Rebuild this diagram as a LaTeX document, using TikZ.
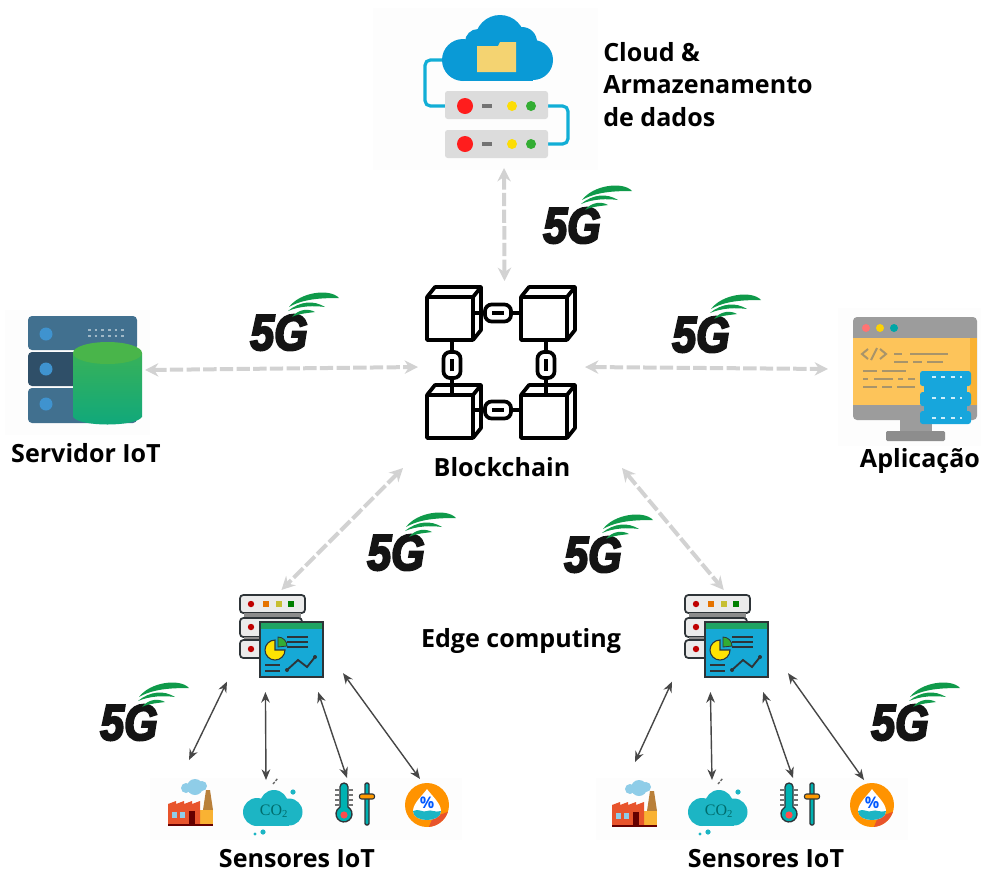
\documentclass[tikz,border=0pt]{standalone}
\usepackage{fontspec}
\setmainfont{Open Sans}
\newfontfamily\fivegfont{Liberation Sans}[BoldItalicFeatures={FakeBold=4,FakeStretch=0.85}]
\newfontfamily\gasfont{Liberation Serif}
\usetikzlibrary{arrows.meta}
\definecolor{inkdark}{HTML}{2E3438}
\definecolor{netgray}{HTML}{D2D2D2}
\definecolor{wirepale}{HTML}{12AED6}
\definecolor{skyblue}{HTML}{0A9AD6}
\definecolor{leaf}{HTML}{0F9A4A}
\definecolor{tealgas}{HTML}{1CB5C4}
\definecolor{rowgray}{HTML}{DCDCDC}
\definecolor{deskyellow}{HTML}{FDC45A}
\definecolor{deskgray}{HTML}{9C9C9C}
\definecolor{codeline}{HTML}{A8946A}
\definecolor{paneblue}{HTML}{16A9D6}
\definecolor{panegreen}{HTML}{1FA463}
\definecolor{rackblue}{HTML}{17A6DC}
\definecolor{brick}{HTML}{E8542C}
\definecolor{tower}{HTML}{F9B233}
\definecolor{chimney}{HTML}{B9803A}
\definecolor{smoke}{HTML}{8FCDE8}
\definecolor{srvrow}{HTML}{41708F}
\definecolor{srvmid}{HTML}{2F4F68}
\definecolor{srvdot}{HTML}{3F93CF}
\definecolor{drumtop}{HTML}{49B54A}
\definecolor{drumlow}{HTML}{0FA87C}
\tikzset{netlink/.style = {draw = netgray, line width = 3pt, dash pattern = on 10pt off 2.5pt,
                           {Stealth[length = 10pt, width = 10pt, fill = netgray!80]}-{Stealth[length = 10pt, width = 10pt, fill = netgray!80]}}}
\tikzset{senslink/.style = {draw = black!72, line width = 1.05pt,
                            {Stealth[length = 8pt, width = 6.5pt]}-{Stealth[length = 8pt, width = 6.5pt]}}}
\tikzset{lbl/.style = {font = \bfseries\fontsize{18.8}{24.4}\selectfont, inner sep = 0, text = black}}
\tikzset{slot/.style = {inner sep = 0, outer sep = 0, minimum width = #1}}
\tikzset{faint/.style = {fill = black!0.6, draw = none}}
\tikzset{fivegee/.pic = {
    \node (-txt) [anchor = base west, inner sep = 0, font = \fivegfont\bfseries\itshape\fontsize{38}{38}\selectfont, text = black!92] at (0, 0) {5G};
    \fill [leaf] (39, -43) .. controls (50, -58) and (80, -62) .. (89, -52) .. controls (70, -52) and (53, -51) .. (39, -43);
    \fill [leaf] (38, -39) .. controls (50, -49) and (64, -50) .. (75, -43) .. controls (64, -44.5) and (50, -44.2) .. (38, -39);
    \fill [leaf] (42, -33) .. controls (49, -41.5) and (59, -41.5) .. (65, -38) .. controls (59, -37) and (49, -36.7) .. (42, -33);
}}
\tikzset{cubeblock/.pic = {
    \draw [line width = 2.8pt, line join = round, fill = white] (0, 0) rectangle (46, 43);
    \draw [line width = 2.8pt, line join = round] (0, 0) -- (8, -10) -- (54, -10) -- (46, 0);
    \draw [line width = 2.8pt, line join = round] (54, -10) -- (54, 33) -- (46, 43);
}}
\tikzset{chainlink/.pic = {
    \draw [line width = 2.8pt, rounded corners = 5pt, fill = white] (-13, -8.5) rectangle (13, 8.5);
    \draw [line width = 2.3pt] (-6, 0) -- (6, 0);
}}
\tikzset{edgeicon/.pic = {
    \draw [draw = inkdark, line width = 1.3pt, fill = black!8, rounded corners = 2.5pt] (0, 0) rectangle (65, 18);
    \fill [black!45] (4, 18) rectangle (61, 23);
    \draw [draw = inkdark, line width = 1.3pt, fill = black!8, rounded corners = 2.5pt] (0, 23) rectangle (62, 42);
    \fill [black!45] (4, 42) rectangle (20, 45);
    \draw [draw = inkdark, line width = 1.3pt, fill = black!8, rounded corners = 2.5pt] (0, 45) rectangle (40, 63);
    \fill [red!75!black] (11, 9) circle (3.2);
    \fill [orange!90!black] (23, 6) rectangle (29, 12);
    \fill [yellow!75!black] (36, 6) rectangle (42, 12);
    \fill [green!50!black] (48, 6) rectangle (54, 12);
    \fill [red!75!black] (11, 32) circle (3.2);
    \fill [red!75!black] (11, 54) circle (3.2);
    \draw [draw = inkdark, line width = 1.3pt, fill = paneblue] (20, 27) rectangle (83, 82);
    \fill [panegreen] (21, 28) rectangle (82, 34);
    \filldraw [draw = inkdark, line width = 0.8pt, fill = yellow!85!orange] (35, 55) -- (35, 45) arc [start angle = 270, end angle = 0, radius = 10] -- cycle;
    \filldraw [draw = inkdark, line width = 0.6pt, fill = green!60!black!80] (38, 52) -- (38, 42) arc [start angle = 270, end angle = 360, radius = 9] -- cycle;
    \draw [inkdark, line width = 1pt] (47, 42) -- (68, 42) (47, 47) -- (68, 47) (47, 52) -- (68, 52);
    \draw [inkdark, line width = 1pt] (25, 70) -- (40, 70) (25, 76) -- (40, 76);
    \draw [inkdark, line width = 1.4pt] (47, 75) -- (58, 65) -- (67, 72) -- (75, 62);
    \fill [inkdark] (47, 75) circle (2);
    \fill [inkdark] (75, 62) circle (2);
}}
\tikzset{factoryicon/.pic = {
    \fill [smoke] (27, 7) circle (8);
    \fill [smoke] (18, 8) circle (5);
    \fill [smoke] (34, 6) circle (5);
    \fill [chimney] (35, 30) -- (38, 10) -- (42, 10) -- (45, 30) -- cycle;
    \fill [tower] (32, 30) rectangle (45, 45);
    \fill [brick] (0, 45) -- (0, 24) -- (8, 21) -- (8, 24) -- (16, 21) -- (16, 24) -- (24, 21) -- (24, 24) -- (32, 21) -- (32, 45) -- cycle;
    \fill [smoke] (4, 32) rectangle (9, 38);
    \fill [smoke] (12, 32) rectangle (17, 38);
    \fill [black!60!red] (21, 31) rectangle (27, 45);
    \fill [black!60!red] (0, 44) rectangle (45, 46);
}}
\tikzset{gasicon/.pic = {
    \fill [tealgas] (14, 20) circle (14);
    \fill [tealgas] (31, 12) circle (14);
    \fill [tealgas] (46, 20) circle (13.5);
    \fill [tealgas] (14, 14) rectangle (46, 33.5);
    \fill [tealgas] (50, 0) circle (2.6);
    \fill [tealgas] (20, 40) circle (2.6);
    \fill [tealgas] (12, 42) circle (1.6);
    \node (-txt) [inner sep = 0, font = \gasfont\fontsize{12}{12}\selectfont, text = teal!85!black] at (31, 19) {CO\textsubscript{2}};
}}
\tikzset{thermoicon/.pic = {
    \draw [draw = black!55, line width = 1pt] (-9, 6) -- (-5, 6) (-9, 11) -- (-5, 11) (-9, 16) -- (-5, 16) (-9, 21) -- (-5, 21) (5, 6) -- (9, 6) (5, 11) -- (9, 11) (5, 16) -- (9, 16) (5, 21) -- (9, 21);
    \draw [draw = inkdark, line width = 1pt, fill = teal!60!cyan] (-4, 23) -- (-4, 3) arc (180:360:4) -- (4, 23) arc (-60:240:8) -- cycle;
    \fill [red!60!pink] (0, 31) circle (3.6);
    \draw [draw = inkdark, line width = 1pt, fill = teal!60!cyan, rounded corners = 1pt] (21, -1) rectangle (25, 41);
    \draw [draw = inkdark, line width = 0.8pt, fill = orange!80!yellow, rounded corners = 1.5pt] (15.5, 10) rectangle (30.5, 15);
}}
\tikzset{dropicon/.pic = {
    \fill [orange!85!yellow] (0, 0) circle (22);
    \fill [brick] (6, 12) -- (20.9, 6.9) arc [start angle = 18.4, end angle = 85, radius = 22] -- cycle;
    \fill [white] (0, -16) .. controls (4, -10) and (14, -2) .. (14, 6) .. controls (14, 18) and (-14, 18) .. (-14, 6) .. controls (-14, -2) and (-4, -10) .. (0, -16);
    \fill [tealgas] (-14, 6) .. controls (-8, 3) and (-4, 8) .. (0, 6) .. controls (4, 4) and (8, 8) .. (14, 6) .. controls (14, 18) and (-14, 18) .. (-14, 6);
    \node (-txt) [inner sep = 0, font = \bfseries\fontsize{12}{12}\selectfont, text = blue!65!cyan] at (0, -2) {\%};
}}
\begin{document}
\begin{tikzpicture}[x = 0.75pt, y = -0.75pt]
    \useasboundingbox (0, 0) rectangle (981, 872);

    % Cloud
    \fill [faint] (373, 8) rectangle (598, 170);
    \node (store) [slot = 142pt, minimum height = 120pt] at (504, 88) {};
    \draw [wirepale, line width = 2.4pt, rounded corners = 4pt] (445, 60) -- (425, 60) -- (425, 106) -- (448, 106);
    \draw [wirepale, line width = 2.4pt, rounded corners = 4pt] (545, 106) -- (568, 106) -- (568, 144) -- (545, 144);
    \fill [skyblue] (500, 40) circle (25);
    \fill [skyblue] (463, 60) circle (21);
    \fill [skyblue] (533, 60) circle (20);
    \fill [skyblue] (478, 42) circle (13);
    \fill [skyblue] (522, 42) circle (15);
    \fill [skyblue] (463, 55) rectangle (533, 81);
    \fill [orange!40!yellow!70!brown!60] (477, 46) -- (498, 46) -- (500, 42) -- (516, 42) -- (516, 72) -- (477, 72) -- cycle;
    \fill [rowgray, rounded corners = 2pt] (445, 91) rectangle (548, 119);
    \fill [rowgray, rounded corners = 2pt] (445, 130) rectangle (548, 158);
    \fill [red!85!pink] (465, 106) circle (8);
    \fill [red!85!pink] (465, 144) circle (8);
    \fill [black!55] (482, 104) rectangle (492, 108);
    \fill [black!55] (482, 142) rectangle (492, 146);
    \fill [yellow!80!orange] (512, 106) circle (5);
    \fill [yellow!80!orange] (512, 144) circle (5);
    \fill [green!60!black!80] (531, 106) circle (5);
    \fill [green!60!black!80] (531, 144) circle (5);
    \node (lblStore) [lbl, anchor = north west, align = left] at (603, 42) {Cloud \&\\Armazenamento\\de dados};

    % Blockchain
    \node (chain) [slot = 125.25pt, minimum height = 129pt] at (501.5, 367) {};
    \draw [line width = 2.8pt] (473, 313) -- (521, 313) (473, 410) -- (521, 410);
    \draw [line width = 2.8pt] (452, 340) -- (452, 395) (546, 340) -- (546, 395);
    \pic at (498, 313) {chainlink};
    \pic at (498, 410) {chainlink};
    \pic [rotate = 90] at (452, 365) {chainlink};
    \pic [rotate = 90] at (546, 365) {chainlink};
    \pic at (427, 297) {cubeblock};
    \pic at (521, 297) {cubeblock};
    \pic at (427, 395) {cubeblock};
    \pic at (521, 395) {cubeblock};
    \node (lblChain) [lbl] at (502, 467) {Blockchain};
    \coordinate (chainSW) at (403, 468);
    \coordinate (chainSE) at (622, 468);

    % Servidor IoT
    \fill [faint] (5, 310) rectangle (150, 435);
    \node (iotsrv) [slot = 97.5pt, minimum height = 60pt] at (80, 370) {};
    \fill [srvrow, rounded corners = 3pt] (28, 316) rectangle (137, 350);
    \fill [srvmid, rounded corners = 3pt] (28, 352) rectangle (137, 386);
    \fill [srvrow, rounded corners = 3pt] (28, 388) rectangle (137, 423);
    \fill [srvdot] (46, 334) circle (6.5);
    \fill [srvdot] (46, 369) circle (6.5);
    \fill [srvdot] (46, 404) circle (6.5);
    \draw [srvrow!50!white, line width = 1pt, dash pattern = on 2pt off 3pt] (88, 330) -- (124, 330) (88, 336) -- (124, 336);
    \shade [top color = drumtop!70!drumlow, bottom color = drumlow] (73, 353) -- (73, 417) .. controls (80, 427) and (135, 427) .. (142, 417) -- (142, 353) -- cycle;
    \fill [drumtop] (107.5, 353) ellipse (34.5 and 11);
    \node (lblServer) [lbl] at (86, 453) {Servidor IoT};

    % Aplicacao
    \fill [faint] (838, 308) rectangle (981, 446);
    \node (appl) [slot = 108pt, minimum height = 75pt] at (900, 369) {};
    \fill [deskgray] (900, 418) rectangle (932, 432);
    \fill [deskgray!90!black, rounded corners = 1pt] (886, 431) rectangle (945, 441);
    \fill [deskgray, rounded corners = 3pt] (853, 317) rectangle (977, 420);
    \fill [deskyellow] (853, 338) rectangle (977, 405);
    \fill [tower] (970, 338) rectangle (977, 405);
    \fill [pink!60!red] (866, 328) circle (4);
    \fill [yellow!70!orange] (880, 328) circle (4);
    \fill [teal!70!cyan] (894, 328) circle (4);
    \draw [codeline, line width = 1.5pt] (868, 349) -- (862, 354) -- (868, 359) (871, 360) -- (877, 348) (880, 349) -- (886, 354) -- (880, 359);
    \draw [codeline, line width = 1.4pt] (894, 354) -- (902, 354) (910, 354) -- (948, 354) (894, 362) -- (908, 362) (913, 362) -- (922, 362) (927, 362) -- (943, 362)
        (863, 371) -- (877, 371) (882, 371) -- (906, 371) (863, 379) -- (868, 379) (874, 379) -- (893, 379) (898, 379) -- (903, 379) (908, 379) -- (915, 379)
        (863, 387) -- (877, 387) (882, 387) -- (892, 387) (897, 387) -- (915, 387);
    \fill [rackblue, rounded corners = 2pt] (920, 371) rectangle (971, 386);
    \fill [rackblue, rounded corners = 2pt] (920, 392) rectangle (971, 406);
    \fill [rackblue, rounded corners = 2pt] (920, 411) rectangle (971, 424);
    \fill [rackblue] (924, 384) rectangle (967, 413);
    \draw [white!80!cyan, line width = 1pt, dash pattern = on 3pt off 4pt] (932, 377) -- (962, 377) (932, 398) -- (962, 398) (932, 418) -- (962, 418);
    \node (lblApp) [lbl] at (920, 461) {Aplicação};

    % Edge computing
    \node (edgeL) [slot = 87pt, minimum height = 76.5pt] at (285, 641) {};
    \node (edgeR) [slot = 87pt, minimum height = 76.5pt] at (730, 641) {};
    \pic at (240, 595) {edgeicon};
    \pic at (685, 595) {edgeicon};
    \node (lblEdge) [lbl] at (521, 641) {Edge computing};

    % Sensors
    \fill [faint] (150, 778) rectangle (462, 840);
    \fill [faint] (596, 778) rectangle (908, 840);
    \node (factoryL) [slot = 37pt, minimum height = 52.5pt] at (189, 795) {};
    \node (gasL) [slot = 45pt, minimum height = 37.5pt] at (266, 805) {};
    \node (thermoL) [slot = 30pt, minimum height = 37.5pt] at (347, 803) {};
    \node (dropL) [slot = 33pt, minimum height = 37.5pt] at (420, 804) {};
    \node (factoryR) [slot = 37pt, minimum height = 52.5pt] at (635, 797) {};
    \node (gasR) [slot = 45pt, minimum height = 37.5pt] at (712, 805) {};
    \node (thermoR) [slot = 30pt, minimum height = 37.5pt] at (793, 803) {};
    \node (dropR) [slot = 33pt, minimum height = 37.5pt] at (864, 805) {};
    \pic at (168, 780) {factoryicon};
    \pic at (612, 781) {factoryicon};
    \pic at (243, 792) {gasicon};
    \pic at (688, 792) {gasicon};
    \pic at (344, 784) {thermoicon};
    \pic at (789, 784) {thermoicon};
    \pic at (427, 805) {dropicon};
    \pic at (872, 805) {dropicon};
    \draw [black!60, line width = 1pt, dash pattern = on 2pt off 1pt] (273, 784) -- (278, 778);
    \draw [black!60, line width = 1pt, dash pattern = on 2pt off 1pt] (718, 784) -- (723, 778);
    \node (lblSensL) [lbl, anchor = base] at (297, 867) {Sensores IoT};
    \node (lblSensR) [lbl, anchor = base] at (766, 867) {Sensores IoT};

    % Links
    \draw [netlink] (store.south) -- (chain.88);
    \draw [netlink] (iotsrv.east) -- (chain.west);
    \draw [netlink] (chain.east) -- (appl.west);
    \draw [netlink] (chainSW) -- (edgeL.94.5);
    \draw [netlink] (chainSE) -- (edgeR.97.8);
    \draw [senslink] (edgeL.215.8) -- (factoryL.north);
    \draw [senslink] (edgeL.249.2) -- (gasL.north);
    \draw [senslink] (edgeL.-57) -- (thermoL.north);
    \draw [senslink] (edgeL.-29.7) -- (dropL.north);
    \draw [senslink] (edgeR.215.8) -- (factoryR.north);
    \draw [senslink] (edgeR.249.2) -- (gasR.north);
    \draw [senslink] (edgeR.-57) -- (thermoR.north);
    \draw [senslink] (edgeR.-29.7) -- (dropR.north);

    % 5G marks
    \pic (markA) at (543, 243) {fivegee};
    \pic (markB) at (250, 350) {fivegee};
    \pic (markC) at (672, 352) {fivegee};
    \pic (markD) at (367, 570) {fivegee};
    \pic (markE) at (564, 572) {fivegee};
    \pic (markF) at (100, 740) {fivegee};
    \pic (markG) at (871, 740) {fivegee};
\end{tikzpicture}
\end{document}
